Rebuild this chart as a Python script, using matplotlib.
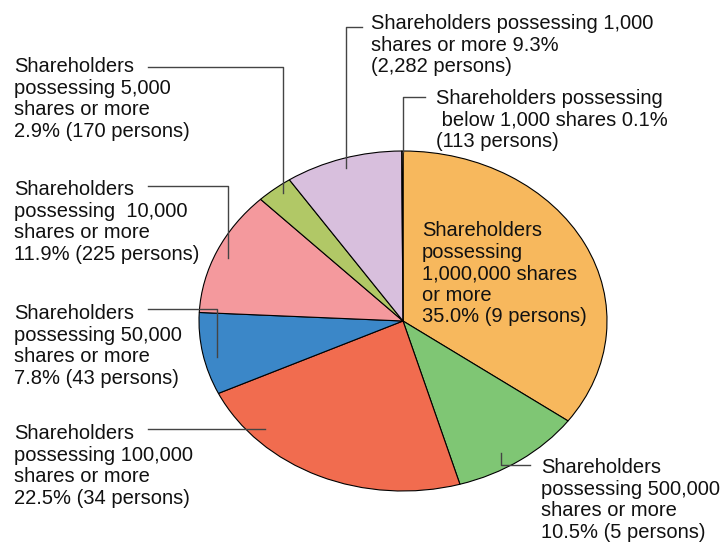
import matplotlib.pyplot as plt
from matplotlib.lines import Line2D

plt.rcParams['font.family'] = ['Liberation Sans', 'DejaVu Sans']

# share of shareholders by holding size, clockwise from 12 o'clock
shares = [35.0, 10.5, 22.5, 7.8, 11.9, 2.9, 9.3, 0.1]
colors = ['#F7B85D', '#7FC674', '#F16C4F', '#3B87C8', '#F4999D',
          '#B1C866', '#D8BFDD', '#F0E0E8']

labels = [
    'Shareholders\npossessing\n1,000,000 shares\nor more\n35.0% (9 persons)',
    'Shareholders\npossessing 500,000\nshares or more\n10.5% (5 persons)',
    'Shareholders\npossessing 100,000\nshares or more\n22.5% (34 persons)',
    'Shareholders\npossessing 50,000\nshares or more\n7.8% (43 persons)',
    'Shareholders\npossessing  10,000\nshares or more\n11.9% (225 persons)',
    'Shareholders\npossessing 5,000\nshares or more\n2.9% (170 persons)',
    'Shareholders possessing 1,000\nshares or more 9.3%\n(2,282 persons)',
    'Shareholders possessing\n below 1,000 shares 0.1%\n(113 persons)',
]

W, H = 725, 543
fig = plt.figure(figsize=(W / 100, H / 100), dpi=100)

# pie is an ellipse: centre (403, 321), rx 204, ry 170 in pixels
cx, cy, rx, ry = 403, 321, 204, 170
ax = fig.add_axes([(cx - rx) / W, (H - cy - ry) / H, 2 * rx / W, 2 * ry / H])
ax.pie(shares, colors=colors, startangle=90, counterclock=False,
       wedgeprops=dict(edgecolor='black', linewidth=0.8))
ax.set_aspect('auto')
ax.set_xlim(-1, 1)
ax.set_ylim(-1, 1)
ax.axis('off')

# overlay in pixel coordinates for labels and leader lines
ov = fig.add_axes([0, 0, 1, 1], facecolor='none')
ov.set_xlim(0, W)
ov.set_ylim(H, 0)
ov.axis('off')

# (x, top of first line) for each label
text_pos = [(422, 221), (541, 458), (14, 424), (14, 304), (14, 180),
            (14, 57), (371, 14), (436, 89)]
for lab, (x, y) in zip(labels, text_pos):
    ov.text(x, y, lab, fontsize=14.5, ha='left', va='top',
            linespacing=1.17, color='#111111')

leaders = [
    None,
    [(530, 465), (501, 465), (501, 453)],
    [(148, 429), (265, 429)],
    [(148, 309), (217, 309), (217, 357)],
    [(148, 186), (228, 186), (228, 258)],
    [(148, 67), (283, 67), (283, 193)],
    [(362, 27), (346, 27), (346, 168)],
    [(425, 97), (403, 97), (403, 152)],
]
for pts in leaders:
    if pts is None:
        continue
    xs, ys = zip(*pts)
    ov.add_line(Line2D(xs, ys, color='#444444', linewidth=1.0))

fig.savefig('out.png', dpi=100)
